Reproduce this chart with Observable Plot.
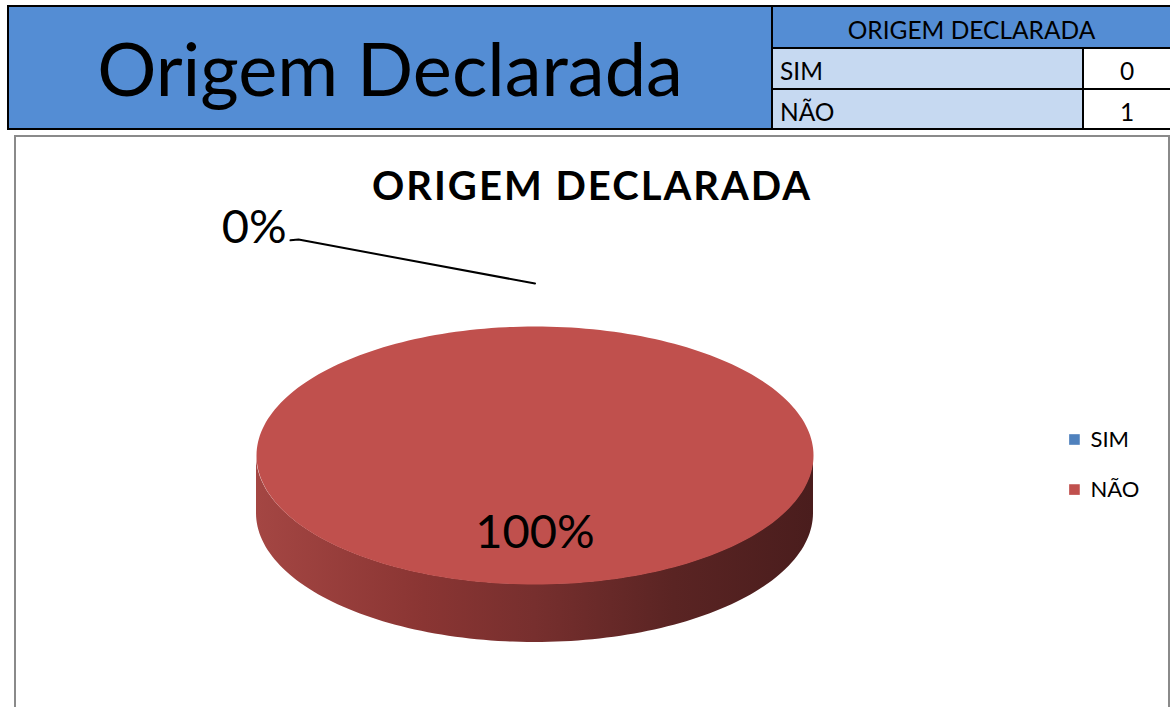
<!DOCTYPE html>
<html><head><meta charset="utf-8">
<script src="https://cdn.jsdelivr.net/npm/d3@7"></script>
<script src="https://cdn.jsdelivr.net/npm/@observablehq/plot@0.6"></script>
<style>
html,body{margin:0;padding:0;background:#fff;overflow:hidden;width:1170px;height:707px;font-family:Lato,"Open Sans",sans-serif;color:#000;}
.abs{position:absolute;box-sizing:border-box;white-space:nowrap;}
</style></head><body>
<div id="root"></div>
<script>
// ---- data ----
const pageTitle = "Origem Declarada";
const chartTitle = "ORIGEM DECLARADA";
const categories = ["SIM", "NÃO"];
const values = [0, 1];
const colors = ["#4F81BD", "#C0504D"];

// ---- header + table (HTML) ----
const root = document.getElementById("root");
function box(css, text) {
  const d = document.createElement("div");
  d.className = "abs"; d.style.cssText = css;
  if (text != null) d.textContent = text;
  root.appendChild(d); return d;
}
box("left:7px;top:5px;width:1200px;height:125px;background:#548DD4;border:2px solid #000;");
box("left:9px;top:7px;width:762px;height:121px;line-height:121px;text-align:center;font-size:74px;", pageTitle);
box("left:771px;top:5px;width:2px;height:125px;background:#000;");
box("left:773px;top:7px;width:397px;height:40px;line-height:45px;text-align:center;font-size:24.5px;", chartTitle);
box("left:773px;top:47px;width:400px;height:2px;background:#000;");
categories.forEach((c, i) => {
  const top = 49 + i * 41, h = i === 0 ? 39 : 38;
  box(`left:773px;top:${top}px;width:309px;height:${h}px;background:#C6D9F1;`);
  box(`left:1084px;top:${top}px;width:90px;height:${h}px;background:#fff;`);
  box(`left:780px;top:${top}px;width:300px;height:${h}px;line-height:44px;font-size:24.5px;`, c);
  box(`left:1084px;top:${top}px;width:86px;height:${h}px;line-height:44px;font-size:24.5px;text-align:center;`, String(values[i]));
  if (i === 0) box(`left:773px;top:88px;width:400px;height:2px;background:#000;`);
});
box("left:1082px;top:47px;width:2px;height:82px;background:#000;");

// ---- chart frame ----
const frame = box("left:14px;top:135px;width:1156px;height:600px;border:2px solid #8a8a8a;background:#fff;overflow:hidden;");

// ---- pie geometry (unit ellipse, angle 0 at top, clockwise) ----
const W = 1151, H = 575;
const CX = 518.5, CY = 318, RX = 278.5, RY = 129, DEPTH = 58;
const data = categories.map((c, i) => ({cat: c, value: values[i]}));
const total = d3.sum(values);
const arcs = d3.pie().sort(null).value(d => d.value)(data);
const STEPS = 240;
const topPts = [], sidePts = [];
arcs.forEach(a => {
  const span = a.endAngle - a.startAngle;
  if (span <= 0) return;
  const n = Math.max(2, Math.ceil(span / (2 * Math.PI) * STEPS));
  topPts.push({cat: a.data.cat, x: 0, y: 0});
  for (let k = 0; k <= n; k++) {
    const t = a.startAngle + span * k / n;
    topPts.push({cat: a.data.cat, x: Math.sin(t), y: Math.cos(t)});
  }
  const s = Math.max(a.startAngle, Math.PI / 2), e = Math.min(a.endAngle, 3 * Math.PI / 2);
  if (e > s) {
    const m = Math.max(2, Math.ceil((e - s) / (2 * Math.PI) * STEPS));
    for (let k = 0; k <= m; k++) {
      const t = s + (e - s) * k / m;
      sidePts.push({cat: a.data.cat, x: Math.sin(t), y2: Math.cos(t), y1: Math.cos(t) - DEPTH / RY});
    }
  }
});
const fmt = d3.format(".0%");
const labels = arcs.map(a => {
  const mid = (a.startAngle + a.endAngle) / 2;
  const pct = total ? a.data.value / total : 0;
  return {cat: a.data.cat, text: fmt(pct), mid, inside: pct >= 0.05};
});
const inside = labels.filter(d => d.inside).map(d => ({...d, x: Math.sin(d.mid) * 0.6, y: Math.cos(d.mid) * 0.6}));
// outside labels with leader lines
const LR = 1.333, LDX = -0.849, LDY = 0.341, LTAIL = 0.029;
const outside = labels.filter(d => !d.inside).map(d => {
  const ax = Math.sin(d.mid) * 1.0, ay = Math.cos(d.mid) * LR;
  return {...d, ax, ay, ex: ax + LDX, ey: ay + LDY, tx: ax + LDX - LTAIL, lx: ax + LDX - LTAIL - 0.014, ly: ay + LDY + 0.09};
});
const leader = outside.flatMap(d => [
  {cat: d.cat, x: d.ax, y: d.ay}, {cat: d.cat, x: d.ex, y: d.ey}, {cat: d.cat, x: d.tx, y: d.ey - 0.006}
]);
// legend
const LEG_X = 1.937, LEG_TX = 1.9946, LEG_Y0 = 0.124, LEG_STEP = 0.388;
const legend = categories.map((c, i) => ({cat: c, y: LEG_Y0 - i * LEG_STEP}));

const xmin = -CX / RX, xmax = (W - CX) / RX;
const ymax = CY / RY, ymin = -(H - CY) / RY;

const svg = Plot.plot({
  width: W, height: H, margin: 0,
  style: {fontFamily: "Lato, 'Open Sans', sans-serif", background: "transparent", color: "#000"},
  x: {domain: [xmin, xmax], axis: null},
  y: {domain: [ymin, ymax], axis: null},
  color: {domain: categories, range: colors},
  marks: [
    Plot.area(sidePts, {x1: "x", y1: "y1", y2: "y2", z: "cat", fill: "url(#sideGrad)"}),
    Plot.line(topPts, {x: "x", y: "y", z: "cat", fill: "cat", stroke: "none", curve: "linear"}),
    Plot.text(inside, {x: "x", y: "y", text: "text", fontSize: 47, lineAnchor: "middle", fill: "#000"}),
    Plot.line(leader, {x: "x", y: "y", z: "cat", stroke: "#000", strokeWidth: 2}),
    Plot.text(outside, {x: "lx", y: "ly", text: "text", fontSize: 47, textAnchor: "end", lineAnchor: "middle", fill: "#000"}),
    Plot.text([chartTitle], {frameAnchor: "top", dy: 50, lineAnchor: "middle", fontSize: 40, fontWeight: "bold", fill: "#000", text: d => d}),
    Plot.dot(legend, {x: () => LEG_X, y: "y", symbol: "square", r: 6, fill: "cat", stroke: "none"}),
    Plot.text(legend, {x: () => LEG_TX, y: "y", text: "cat", textAnchor: "start", lineAnchor: "middle", fontSize: 22, fill: "#000"})
  ]
});
const ns = "http://www.w3.org/2000/svg";
const defs = document.createElementNS(ns, "defs");
defs.innerHTML = '<linearGradient id="sideGrad" x1="0" y1="0" x2="1" y2="0">' +
  '<stop offset="0" stop-color="#a44643"/><stop offset="0.3" stop-color="#8a3533"/>' +
  '<stop offset="0.5" stop-color="#772f2e"/><stop offset="0.75" stop-color="#5a2423"/>' +
  '<stop offset="1" stop-color="#4a1d1d"/></linearGradient>';
svg.insertBefore(defs, svg.firstChild);
svg.querySelectorAll("text").forEach(t => {
  if (t.textContent === chartTitle) t.setAttribute("letter-spacing", "2");
});
svg.style.position = "absolute"; svg.style.left = "0px"; svg.style.top = "0px";
frame.appendChild(svg);
</script>
</body></html>
